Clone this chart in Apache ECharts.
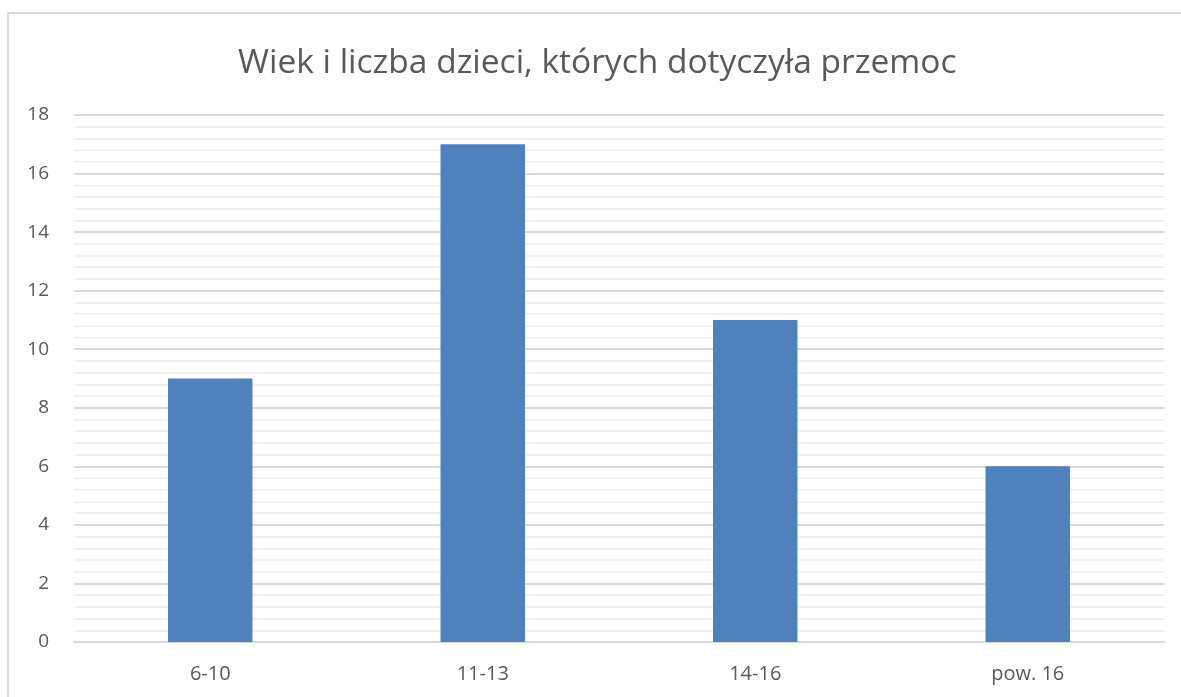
<!DOCTYPE html>
<html>
<head>
<meta charset="utf-8">
<script src="https://cdn.jsdelivr.net/npm/echarts@6/dist/echarts.min.js"></script>
<style>
  html, body { margin: 0; padding: 0; background: #fff; }
  #chart { width: 1181px; height: 697px; }
</style>
</head>
<body>
<div id="chart"></div>
<script>
const categories = ['6-10', '11-13', '14-16', 'pow. 16']
const counts = [9, 17, 11, 6]
const yMin = 0
const yMax = 18
const yStep = 2

const chart = echarts.init(document.getElementById('chart'))
const textColor = '#595959'
const option = {
  animation: false,
  backgroundColor: '#fff',
  graphic: [
    { // chart frame
      type: 'rect',
      silent: true,
      shape: { x: 8, y: 13, width: 1200, height: 720 },
      style: { fill: 'none', stroke: '#d9d9d9', lineWidth: 2 }
    }
  ],
  title: {
    text: 'Wiek i liczba dzieci, których dotyczyła przemoc',
    left: 233,
    top: 41,
    textStyle: {
      fontFamily: 'Open Sans',
      fontSize: 33.5,
      fontWeight: 'normal',
      color: textColor
    }
  },
  grid: {
    left: 74,
    right: 17,
    top: 115,
    bottom: 55
  },
  xAxis: {
    type: 'category',
    data: categories,
    axisLine: { show: true, lineStyle: { color: '#d9d9d9', width: 2 } },
    axisTick: { show: false },
    axisLabel: {
      margin: 22,
      fontFamily: 'Open Sans',
      fontSize: 20,
      color: textColor
    }
  },
  yAxis: {
    type: 'value',
    min: yMin,
    max: yMax,
    interval: yStep,
    axisLine: { show: false },
    axisTick: { show: false },
    axisLabel: {
      margin: 25,
      fontFamily: 'Open Sans',
      fontSize: 19,
      color: textColor
    },
    splitLine: { lineStyle: { color: '#d9d9d9', width: 2 } },
    minorTick: { show: false, splitNumber: 5 },
    minorSplitLine: { show: true, lineStyle: { color: '#f0f0f0', width: 2 } }
  },
  series: [
    {
      type: 'bar',
      data: counts,
      barWidth: '31%',
      itemStyle: { color: '#4f81bd' }
    }
  ]
}
chart.setOption(option)
</script>
</body>
</html>
